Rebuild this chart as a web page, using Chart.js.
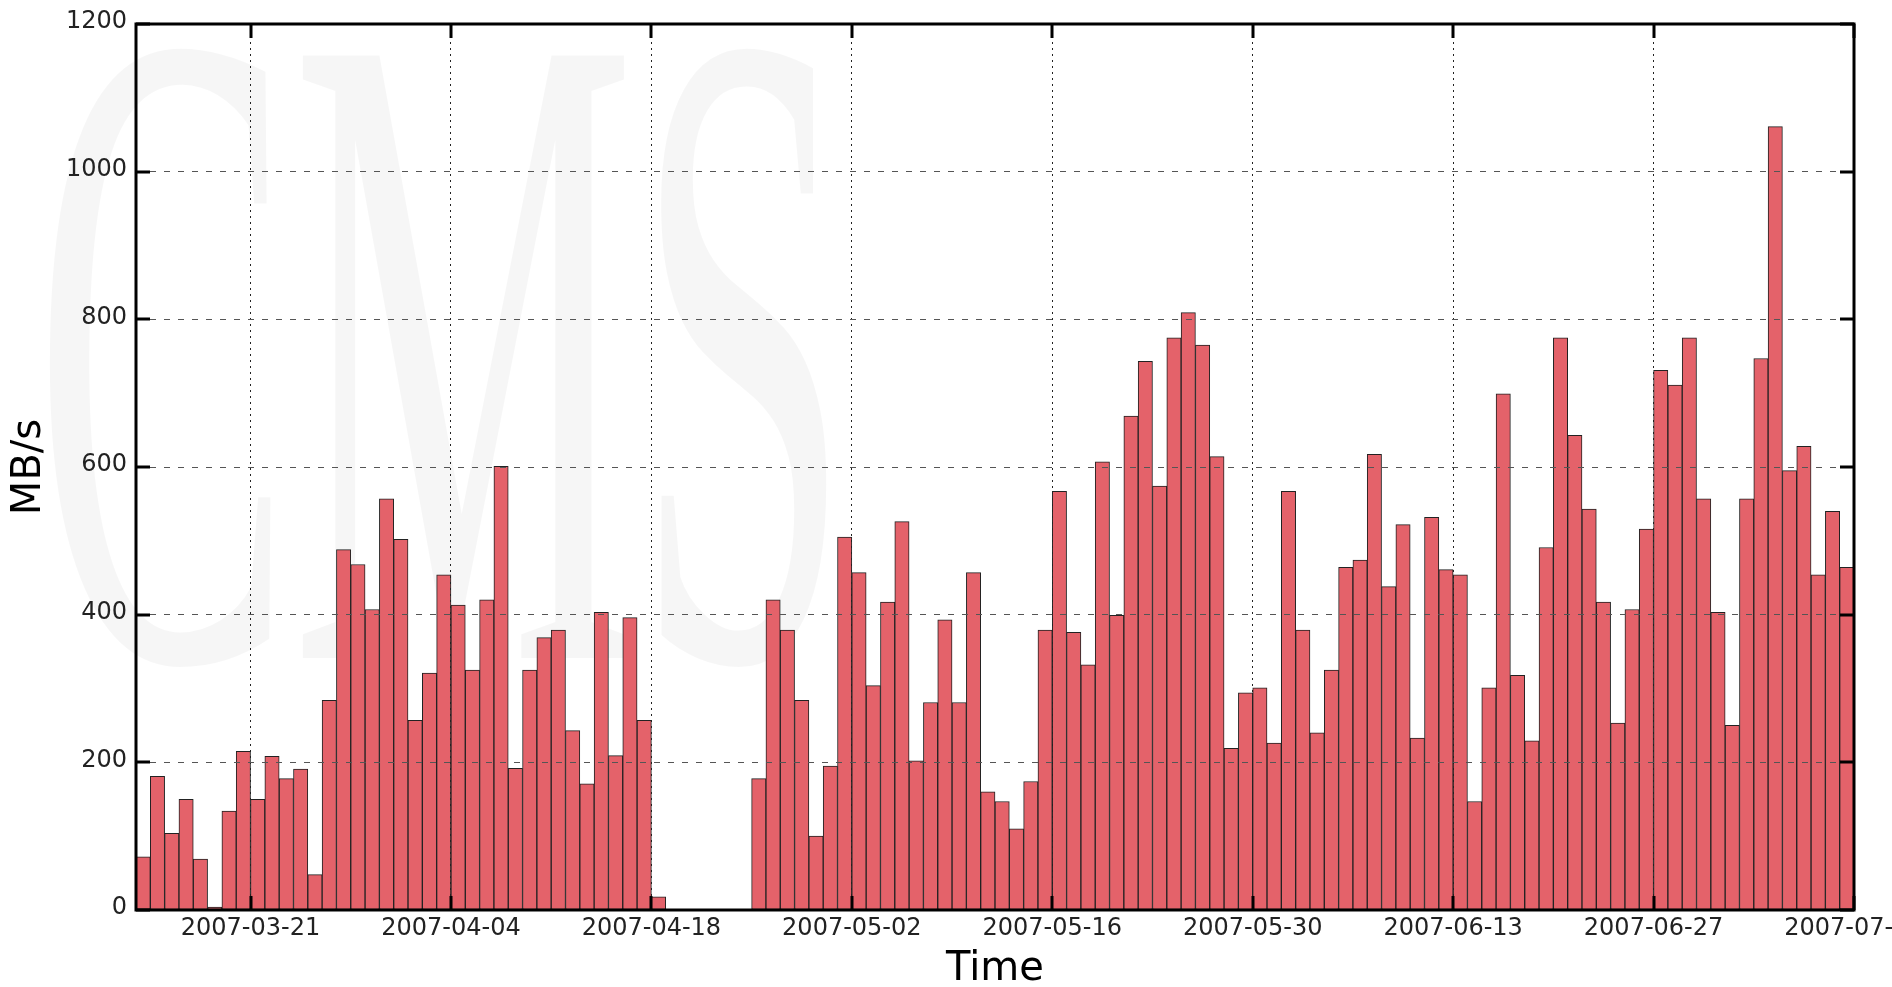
<!DOCTYPE html>
<html>
<head>
<meta charset="utf-8">
<script src="https://cdn.jsdelivr.net/npm/chart.js@4.4.1/dist/chart.umd.min.js"></script>
<style>
html,body{margin:0;padding:0;background:#fff;overflow:hidden}
#wrap{position:relative;width:1892px;height:987px}
</style>
</head>
<body>
<div id="wrap"><canvas id="c" width="1892" height="987"></canvas></div>
<script>
// ---- data ----
const dates = [
 '2007-03-13','2007-03-14','2007-03-15','2007-03-16','2007-03-17','2007-03-18','2007-03-19','2007-03-20','2007-03-21','2007-03-22',
 '2007-03-23','2007-03-24','2007-03-25','2007-03-26','2007-03-27','2007-03-28','2007-03-29','2007-03-30','2007-03-31',
 '2007-04-01','2007-04-02','2007-04-03','2007-04-04','2007-04-05','2007-04-06','2007-04-07','2007-04-08','2007-04-09','2007-04-10',
 '2007-04-11','2007-04-12','2007-04-13','2007-04-14','2007-04-15','2007-04-16','2007-04-17','2007-04-18','2007-04-19','2007-04-20',
 '2007-04-21','2007-04-22','2007-04-23','2007-04-24','2007-04-25','2007-04-26','2007-04-27','2007-04-28','2007-04-29','2007-04-30',
 '2007-05-01','2007-05-02','2007-05-03','2007-05-04','2007-05-05','2007-05-06','2007-05-07','2007-05-08','2007-05-09','2007-05-10',
 '2007-05-11','2007-05-12','2007-05-13','2007-05-14','2007-05-15','2007-05-16','2007-05-17','2007-05-18','2007-05-19','2007-05-20',
 '2007-05-21','2007-05-22','2007-05-23','2007-05-24','2007-05-25','2007-05-26','2007-05-27','2007-05-28','2007-05-29','2007-05-30','2007-05-31',
 '2007-06-01','2007-06-02','2007-06-03','2007-06-04','2007-06-05','2007-06-06','2007-06-07','2007-06-08','2007-06-09','2007-06-10',
 '2007-06-11','2007-06-12','2007-06-13','2007-06-14','2007-06-15','2007-06-16','2007-06-17','2007-06-18','2007-06-19','2007-06-20',
 '2007-06-21','2007-06-22','2007-06-23','2007-06-24','2007-06-25','2007-06-26','2007-06-27','2007-06-28','2007-06-29','2007-06-30',
 '2007-07-01','2007-07-02','2007-07-03','2007-07-04','2007-07-05','2007-07-06','2007-07-07','2007-07-08','2007-07-09','2007-07-10'
];
const rates = [
 72,181,104,150,69,4,134,215,150,208,
 178,191,48,284,488,468,407,557,502,257,
 321,454,413,325,420,601,192,325,369,379,
 243,171,403,209,396,257,18,0,0,0,
 0,0,0,178,420,379,284,100,195,505,
 457,304,417,526,202,281,393,281,457,160,
 147,110,174,379,567,376,332,607,399,669,
 743,574,775,809,765,614,219,294,301,226,
 567,379,240,325,464,474,617,438,522,233,
 532,461,454,147,301,699,318,229,491,775,
 643,543,417,253,407,516,731,711,775,557,
 403,250,557,747,1061,595,628,454,540,464
];
const xTickLabels = ['2007-03-21','2007-04-04','2007-04-18','2007-05-02','2007-05-16','2007-05-30','2007-06-13','2007-06-27','2007-07-11'];
const yTickValues = [0,200,400,600,800,1000,1200];
const yAxisTitle = 'MB/s';
const xAxisTitle = 'Time';
const watermarkText = 'CMS';

// ---- helpers ----
const DAY = 86400000;
const t0 = Date.parse(dates[0]);
const dayOf = s => Math.round((Date.parse(s) - t0) / DAY);
const xTickValues = xTickLabels.map(dayOf);
const points = rates.map((v, i) => ({x: dayOf(dates[i]) + 0.5, y: v}));

const FONT = 'DejaVu Sans';

const watermark = {
  id: 'watermark',
  beforeDraw(chart) {
    const ctx = chart.ctx;
    ctx.save();
    ctx.fillStyle = 'rgba(0,0,0,0.035)';
    ctx.translate(34, 658);
    ctx.scale(0.42, 1);
    ctx.font = '920px "Liberation Serif"';
    ctx.textBaseline = 'alphabetic';
    ctx.fillText(watermarkText, 0, 0);
    ctx.restore();
  }
};

const frameAndTicks = {
  id: 'frameAndTicks',
  afterDraw(chart) {
    const {ctx, chartArea: a, scales} = chart;
    const L = 14;
    ctx.save();
    ctx.strokeStyle = '#000';
    ctx.lineWidth = 3;
    ctx.setLineDash([]);
    ctx.beginPath();
    scales.y.ticks.forEach(t => {
      const p = Math.round(scales.y.getPixelForValue(t.value));
      ctx.moveTo(a.left, p); ctx.lineTo(a.left + L, p);
      ctx.moveTo(a.right, p); ctx.lineTo(a.right - L, p);
    });
    scales.x.ticks.forEach(t => {
      const p = Math.round(scales.x.getPixelForValue(t.value));
      ctx.moveTo(p, a.top); ctx.lineTo(p, a.top + L);
      ctx.moveTo(p, a.bottom); ctx.lineTo(p, a.bottom - L);
    });
    ctx.stroke();
    ctx.strokeRect(a.left, a.top, a.right - a.left, a.bottom - a.top);
    ctx.restore();
  }
};

new Chart(document.getElementById('c'), {
  type: 'bar',
  data: {
    datasets: [{
      label: 'Transfer rate',
      data: points,
      backgroundColor: '#e4626a',
      borderColor: '#222',
      borderWidth: 1,
      borderSkipped: false,
      barPercentage: 1,
      categoryPercentage: 1
    }]
  },
  options: {
    responsive: false,
    animation: false,
    devicePixelRatio: 1,
    layout: {padding: {left: 0, right: 38, top: 24, bottom: 0}},
    plugins: {legend: {display: false}, title: {display: false}, tooltip: {enabled: false}},
    scales: {
      x: {
        type: 'linear',
        min: 0,
        max: dates.length,
        offset: false,
        afterBuildTicks: s => { s.ticks = xTickValues.map(v => ({value: v})); },
        afterFit: s => { s.height = 77; s.paddingLeft = 0; s.paddingRight = 0; },
        ticks: {
          autoSkip: false, maxRotation: 0, minRotation: 0, padding: 4,
          color: '#222', font: {family: FONT, size: 24},
          callback: v => { const i = xTickValues.indexOf(v); return i >= 0 ? xTickLabels[i] : ''; }
        },
        grid: {z: 1, offset: false, color: '#222', lineWidth: 1, drawTicks: false},
        border: {display: false, dash: [2, 4]},
        title: {display: true, text: xAxisTitle, color: '#000', font: {family: FONT, size: 40, lineHeight: 0.85}, padding: 0}
      },
      y: {
        min: 0,
        max: 1200,
        afterBuildTicks: s => { s.ticks = yTickValues.map(v => ({value: v})); },
        afterFit: s => { s.width = 136; s.paddingTop = 0; s.paddingBottom = 0; },
        ticks: {padding: 9, labelOffset: -2, color: '#222', font: {family: FONT, size: 24}, callback: v => String(v)},
        grid: {z: 1, color: '#555', lineWidth: 1, drawTicks: false},
        border: {display: false, dash: [6, 8]},
        title: {display: true, text: yAxisTitle, color: '#000', font: {family: FONT, size: 40, lineHeight: 1.2}, padding: {top: 6, bottom: 0}}
      }
    }
  },
  plugins: [watermark, frameAndTicks]
});
</script>
</body>
</html>
